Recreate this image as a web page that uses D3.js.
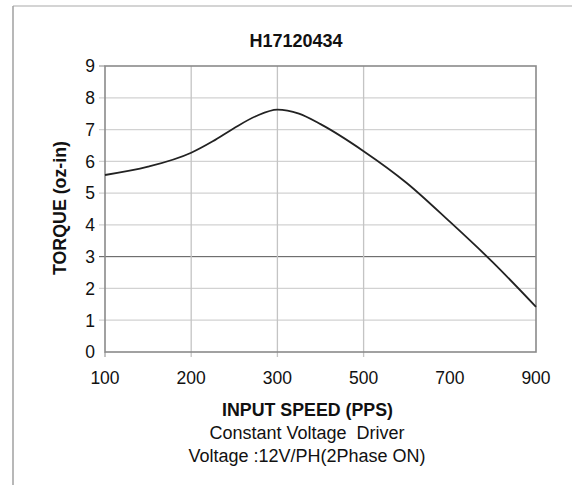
<!DOCTYPE html>
<html>
<head>
<meta charset="utf-8">
<script src="https://cdn.jsdelivr.net/npm/d3@7"></script>
<style>
  body { margin: 0; background: #fff; }
  text { font-family: "Liberation Sans", Arial, sans-serif; fill: #111; white-space: pre; }
</style>
</head>
<body>
<script>
const w = 572;
const h = 485;

let title = "H17120434";
let xLabel = "INPUT SPEED (PPS)";
let yLabel = "TORQUE (oz-in)";
let notes = ["Constant Voltage  Driver", "Voltage :12V/PH(2Phase ON)"];

// x axis categories (equally spaced on the original chart)
let xTicks = [100, 200, 300, 500, 700, 900];
let xGrid = [200, 300, 500];
let yTicks = [0, 1, 2, 3, 4, 5, 6, 7, 8, 9];

// torque curve
let speed = [100, 150, 200, 225, 250, 275, 300, 350, 400, 500, 600, 700, 800, 900];
let torque = [5.57, 5.83, 6.27, 6.63, 7.05, 7.42, 7.63, 7.5, 7.17, 6.32, 5.32, 4.1, 2.82, 1.42];

const plotL = 105, plotR = 536, plotT = 66, plotB = 352;

const svg = d3.select("body")
  .append("svg")
  .attr("width", w)
  .attr("height", h);

// outer frame
svg.append("line")
  .attr("x1", 13).attr("x2", w).attr("y1", 6).attr("y2", 6)
  .style("stroke", "#d4d4d4").style("stroke-width", 2);
svg.append("line")
  .attr("x1", 13).attr("x2", 13).attr("y1", 6).attr("y2", h)
  .style("stroke", "#a0a0a0").style("stroke-width", 1.5);

// polylinear scale so the categories sit evenly
let x = d3.scaleLinear()
  .domain(xTicks)
  .range(xTicks.map((d, i) => plotL + (plotR - plotL) * i / (xTicks.length - 1)));

let y = d3.scaleLinear()
  .domain([0, 9])
  .range([plotB, plotT]);

// horizontal grid
svg.selectAll(".hgrid")
  .data(yTicks.filter(d => d > 0 && d < 9))
  .enter()
  .append("line")
  .attr("class", "hgrid")
  .attr("x1", plotL - 6)
  .attr("x2", plotR)
  .attr("y1", d => y(d))
  .attr("y2", d => y(d))
  .style("stroke", d => d == 3 ? "#555" : "#d2d2d2")
  .style("stroke-width", d => d == 3 ? 1 : 1.3);

// vertical grid
svg.selectAll(".vgrid")
  .data(xGrid)
  .enter()
  .append("line")
  .attr("class", "vgrid")
  .attr("x1", d => x(d))
  .attr("x2", d => x(d))
  .attr("y1", plotT)
  .attr("y2", plotB + 5)
  .style("stroke", "#c4c4c4")
  .style("stroke-width", 1.3);

// small ticks outside the plot
svg.append("line")
  .attr("x1", plotL - 6).attr("x2", plotL).attr("y1", y(9)).attr("y2", y(9))
  .style("stroke", "#888");
svg.append("line")
  .attr("x1", plotL).attr("x2", plotL).attr("y1", plotB).attr("y2", plotB + 5)
  .style("stroke", "#888");

// plot border
svg.append("rect")
  .attr("x", plotL)
  .attr("y", plotT)
  .attr("width", plotR - plotL)
  .attr("height", plotB - plotT)
  .style("fill", "none")
  .style("stroke", "#8a8a8a")
  .style("stroke-width", 1.6);

// curve
let line = d3.line()
  .x((d, i) => x(speed[i]))
  .y(d => y(d))
  .curve(d3.curveMonotoneX);

svg.append("path")
  .datum(torque)
  .attr("d", line)
  .style("fill", "none")
  .style("stroke", "#222")
  .style("stroke-width", 1.8);

// tick labels
svg.selectAll(".ylab")
  .data(yTicks)
  .enter()
  .append("text")
  .attr("class", "ylab")
  .attr("x", 95)
  .attr("y", d => y(d))
  .attr("dy", "0.36em")
  .attr("text-anchor", "end")
  .style("font-size", "17.5px")
  .text(d => d);

svg.selectAll(".xlab")
  .data(xTicks)
  .enter()
  .append("text")
  .attr("class", "xlab")
  .attr("x", d => x(d))
  .attr("y", 384)
  .attr("text-anchor", "middle")
  .style("font-size", "17.5px")
  .text(d => d);

// titles
svg.append("text")
  .attr("x", 296)
  .attr("y", 47)
  .attr("text-anchor", "middle")
  .style("font-size", "18px")
  .style("font-weight", "bold")
  .text(title);

svg.append("text")
  .attr("x", 307.5)
  .attr("y", 416)
  .attr("text-anchor", "middle")
  .style("font-size", "17.8px")
  .style("font-weight", "bold")
  .text(xLabel);

svg.selectAll(".note")
  .data(notes)
  .enter()
  .append("text")
  .attr("class", "note")
  .attr("x", 307)
  .attr("y", (d, i) => 439 + i * 22.5)
  .attr("text-anchor", "middle")
  .style("font-size", "18px")
  .text(d => d);

svg.append("text")
  .attr("transform", "translate(66," + 208 + ") rotate(-90)")
  .attr("text-anchor", "middle")
  .style("font-size", "17.8px")
  .style("font-weight", "bold")
  .text(yLabel);
</script>
</body>
</html>
